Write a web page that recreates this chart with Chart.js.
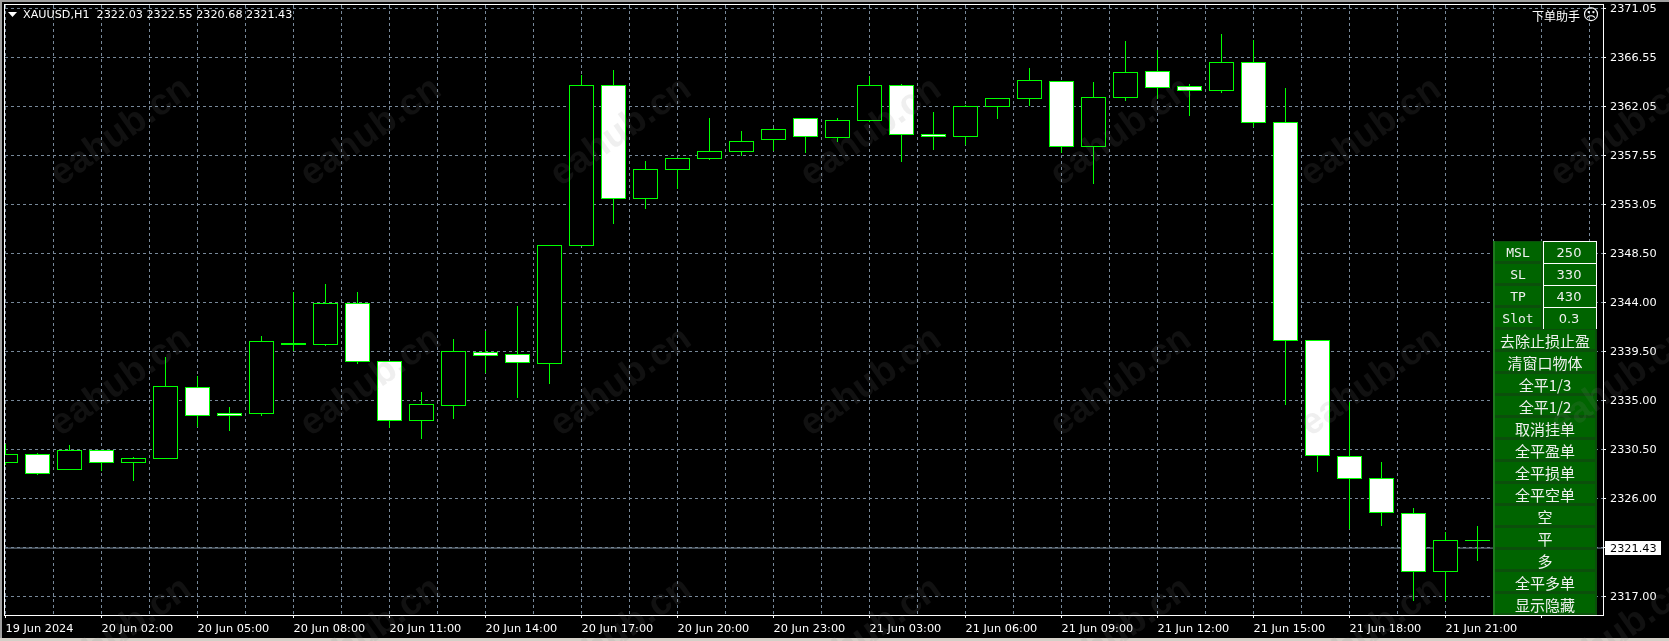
<!DOCTYPE html>
<html>
<head>
<meta charset="utf-8">
<title>XAUUSD,H1</title>
<script src="https://cdn.jsdelivr.net/npm/chart.js@4"></script>
<style>
    html, body { margin: 0; padding: 0; background: #000; overflow: hidden; }
    canvas { display: block; }
</style>
</head>
<body>
<canvas id="priceChart" width="1669" height="641"></canvas>
<script>
// candles, oldest first, one per hour
var opens = [2329.27, 2329.95, 2328.63, 2330.32, 2329.22, 2329.64, 2336.10, 2333.72, 2333.77, 2340.22, 2340.14, 2343.91,
    2338.49, 2333.13, 2334.51, 2339.32, 2339.22, 2338.36, 2349.17, 2363.93, 2353.55, 2356.21, 2357.22, 2357.87,
    2358.97, 2360.90, 2359.15, 2360.71, 2363.93, 2359.43, 2359.24, 2362.00, 2362.73, 2364.29, 2358.33, 2362.82,
    2365.21, 2363.84, 2363.47, 2366.04, 2360.53, 2340.42, 2329.77, 2327.80, 2324.59, 2319.21, 2322.05];
var highs = [2330.90, 2330.07, 2330.80, 2330.32, 2329.70, 2338.88, 2337.20, 2334.29, 2340.81, 2344.88, 2345.59, 2344.85,
    2338.49, 2335.67, 2340.54, 2341.27, 2343.57, 2349.17, 2364.85, 2365.30, 2356.95, 2357.22, 2360.90, 2359.70,
    2359.98, 2360.90, 2360.90, 2364.75, 2364.02, 2361.45, 2362.09, 2362.73, 2365.49, 2364.29, 2364.20, 2367.97,
    2367.14, 2364.02, 2368.55, 2368.02, 2363.65, 2340.42, 2334.73, 2329.22, 2325.02, 2322.84, 2323.37];
var lows = [2329.06, 2328.14, 2328.63, 2328.51, 2327.62, 2329.64, 2332.58, 2332.21, 2333.59, 2339.53, 2340.01, 2338.36,
    2332.48, 2331.45, 2333.28, 2337.54, 2335.21, 2336.53, 2349.17, 2351.24, 2352.60, 2354.43, 2357.09, 2357.50,
    2357.96, 2357.71, 2358.78, 2360.62, 2356.91, 2358.01, 2358.51, 2360.86, 2362.05, 2357.74, 2354.93, 2362.51,
    2362.73, 2361.17, 2363.28, 2360.16, 2334.60, 2328.44, 2323.15, 2323.49, 2316.60, 2316.60, 2320.27];
var closes = [2329.95, 2328.26, 2330.32, 2329.22, 2329.58, 2336.19, 2333.59, 2333.59, 2340.33, 2340.13, 2343.91, 2338.49,
    2333.13, 2334.54, 2339.41, 2339.10, 2338.45, 2349.17, 2363.93, 2353.55, 2356.21, 2357.22, 2357.87, 2358.78,
    2359.89, 2359.24, 2360.71, 2363.93, 2359.43, 2359.21, 2362.00, 2362.73, 2364.39, 2358.33, 2362.82, 2365.12,
    2363.74, 2363.47, 2366.04, 2360.53, 2340.42, 2329.86, 2327.75, 2324.62, 2319.21, 2322.05, 2322.05];

var timeLabels = ['19 Jun 2024', '20 Jun 02:00', '20 Jun 05:00', '20 Jun 08:00', '20 Jun 11:00', '20 Jun 14:00',
    '20 Jun 17:00', '20 Jun 20:00', '20 Jun 23:00', '21 Jun 03:00', '21 Jun 06:00', '21 Jun 09:00',
    '21 Jun 12:00', '21 Jun 15:00', '21 Jun 18:00', '21 Jun 21:00'];

var priceTicks = [2371.05, 2366.55, 2362.05, 2357.55, 2353.05, 2348.50, 2344.00, 2339.50, 2335.00, 2330.50, 2326.00, 2321.50, 2317.00];
var priceTickLabels = ['2371.05', '2366.55', '2362.05', '2357.55', '2353.05', '2348.50', '2344.00', '2339.50', '2335.00', '2330.50', '2326.00', '', '2317.00'];
var lastPrice = 2321.43;
var headerText = 'XAUUSD,H1  2322.03 2322.55 2320.68 2321.43';

var panelInputs = ['MSL', 'SL', 'TP', 'Slot'];
var panelValues = ['250', '330', '430', '0.3'];
var panelButtons = ['去除止损止盈', '清窗口物体', '全平1/3', '全平1/2', '取消挂单', '全平盈单', '全平损单', '全平空单', '空', '平', '多', '全平多单', '显示隐藏'];

var GREEN = '#00ff00';
var GRID = '#778899';
var LABEL_FONT = { family: '"DejaVu Sans"', size: 11.3 };

var wickData = [];
var bodyData = [];
var bodyColors = [];
for (var i = 0; i < opens.length; i++) {
    wickData.push({ x: i, y: [lows[i], highs[i]] });
    bodyData.push({ x: i, y: [opens[i], closes[i]] });
    bodyColors.push(closes[i] < opens[i] ? '#ffffff' : '#000000');
}

var gridTicks = [];
for (var t = 0; t < 34; t++) {
    gridTicks.push(t * 1.5);
}

// bars land on fractional pixels, snap them to whole rows so the outlines stay sharp
var snapBars = {
    id: 'snapBars',
    afterDatasetsUpdate: function (chart) {
        chart.data.datasets.forEach(function (ds, n) {
            if (ds.type === 'line') return;
            chart.getDatasetMeta(n).data.forEach(function (el) {
                var top = Math.min(el.y, el.base);
                var bottom = Math.max(el.y, el.base);
                el.y = Math.floor(top - 0.5);
                el.base = Math.floor(bottom - 0.5) + 1;
            });
        });
    }
};

var chartFrame = {
    id: 'chartFrame',
    beforeDraw: function (chart) {
        var ctx = chart.ctx;
        ctx.save();
        ctx.fillStyle = '#000';
        ctx.fillRect(0, 0, chart.width, chart.height);
        ctx.restore();
    },
    afterDraw: function (chart) {
        var ctx = chart.ctx;
        var area = chart.chartArea;
        ctx.save();
        ctx.strokeStyle = '#fff';
        ctx.lineWidth = 1;
        ctx.strokeRect(area.left - 0.5, area.top - 0.5, area.right - area.left + 1, area.bottom - area.top + 1);

        // window edge
        ctx.fillStyle = '#a0a0a0';
        ctx.fillRect(0, 0, chart.width, 2);
        ctx.fillRect(0, 0, 2, chart.height);
        ctx.fillStyle = '#d4d0c8';
        ctx.fillRect(0, 638, chart.width, 3);

        // header
        ctx.fillStyle = '#fff';
        ctx.beginPath();
        ctx.moveTo(8, 12);
        ctx.lineTo(17, 12);
        ctx.lineTo(12.5, 17);
        ctx.closePath();
        ctx.fill();
        ctx.font = '11.2px "DejaVu Sans"';
        ctx.textBaseline = 'middle';
        ctx.textAlign = 'left';
        ctx.fillText(headerText, 23, 15);

        // last price tag
        var y = chart.scales.y.getPixelForValue(lastPrice);
        ctx.fillStyle = '#fff';
        ctx.fillRect(1605, Math.floor(y) - 7, 56, 14);
        ctx.fillStyle = '#000';
        ctx.font = '11.3px "DejaVu Sans"';
        ctx.fillText(lastPrice.toFixed(2), 1610, Math.floor(y) + 1);
        ctx.restore();
    }
};

var orderPanel = {
    id: 'orderPanel',
    afterDatasetsDraw: function (chart) {
        var ctx = chart.ctx;
        var left = 1493, top = 241, rowH = 22, width = 104;
        ctx.save();
        ctx.textAlign = 'center';
        ctx.textBaseline = 'middle';
        ctx.fillStyle = '#1e7a1e';
        ctx.fillRect(left, top, width, rowH * 17);

        // title at the top right
        ctx.fillStyle = '#fff';
        ctx.font = '12px "Noto Sans CJK SC"';
        ctx.fillText('下单助手', 1556, 16);
        ctx.font = '16px "DejaVu Sans"';
        ctx.fillText('☹', 1591, 16);

        var row = 0;
        panelInputs.forEach(function (name, n) {
            var y = top + rowH * row;
            ctx.fillStyle = '#0b4f0b';
            ctx.fillRect(left + 2, y, width - 2, rowH);
            ctx.fillStyle = '#006400';
            ctx.fillRect(left + 2, y + 1, 46, rowH - 3);
            ctx.fillRect(left + 50, y, width - 50, rowH);
            ctx.strokeStyle = '#fff';
            ctx.lineWidth = 1;
            ctx.strokeRect(left + 50.5, y + 0.5, width - 51, rowH);
            ctx.fillStyle = '#f0f0f0';
            ctx.font = '13px "DejaVu Sans Mono"';
            ctx.fillText(name, left + 25, y + 13);
            ctx.font = '13px "DejaVu Sans"';
            ctx.fillText(panelValues[n], left + 76, y + 13);
            row++;
        });
        panelButtons.forEach(function (name) {
            var y = top + rowH * row;
            ctx.fillStyle = '#0b4f0b';
            ctx.fillRect(left + 2, y, width - 2, rowH);
            ctx.fillStyle = '#006400';
            ctx.fillRect(left + 2, y + 1, width - 4, rowH - 3);
            ctx.fillStyle = '#f0f0f0';
            ctx.font = '15px "Noto Sans CJK SC"';
            ctx.fillText(name, left + 52, y + 12);
            row++;
        });
        ctx.restore();
    }
};

// site watermark over everything
var watermark = {
    id: 'watermark',
    afterDraw: function (chart) {
        var ctx = chart.ctx;
        ctx.save();
        ctx.font = 'bold 37px "Liberation Sans"';
        ctx.textAlign = 'center';
        ctx.textBaseline = 'middle';
        ctx.fillStyle = 'rgba(128, 128, 128, 0.13)';
        for (var cx = 121; cx < 1700; cx += 250) {
            for (var cy = 132; cy < 700; cy += 250) {
                ctx.save();
                ctx.translate(cx, cy);
                ctx.rotate(-35 * Math.PI / 180);
                ctx.fillText('eahub.cn', 0, 0);
                ctx.restore();
            }
        }
        ctx.restore();
    }
};

var ctx = document.getElementById('priceChart').getContext('2d');
var chart = new Chart(ctx, {
    type: 'bar',
    data: {
        datasets: [
            {
                type: 'line',
                data: [{ x: -1, y: lastPrice }, { x: 51, y: lastPrice }],
                borderColor: GRID,
                borderWidth: 1,
                pointRadius: 0,
                order: 3
            },
            {
                data: wickData,
                backgroundColor: GREEN,
                barThickness: 1,
                grouped: false,
                inflateAmount: 0,
                order: 2
            },
            {
                data: bodyData,
                backgroundColor: bodyColors,
                borderColor: GREEN,
                borderWidth: 1,
                borderSkipped: false,
                barThickness: 25,
                grouped: false,
                inflateAmount: 0,
                order: 1
            }
        ]
    },
    options: {
        responsive: false,
        animation: false,
        devicePixelRatio: 1,
        layout: { padding: { left: 5, top: 5, right: 0, bottom: 0 } },
        plugins: {
            legend: { display: false },
            tooltip: { enabled: false }
        },
        scales: {
            x: {
                type: 'linear',
                offset: false,
                min: -0.015625,
                max: 49.921875,
                afterBuildTicks: function (scale) {
                    scale.ticks = gridTicks.map(function (v) { return { value: v }; });
                },
                afterFit: function (scale) {
                    scale.height = 26;
                    scale.paddingLeft = 0;
                    scale.paddingRight = 0;
                },
                grid: {
                    offset: false,
                    color: GRID,
                    lineWidth: 1,
                    tickLength: 3,
                    tickBorderDash: [],
                    tickColor: function (c) { return c.index % 2 === 0 ? '#fff' : 'rgba(0,0,0,0)'; }
                },
                border: { display: false, dash: [3, 3] },
                ticks: {
                    autoSkip: false,
                    maxRotation: 0,
                    minRotation: 0,
                    align: 'start',
                    padding: 4,
                    color: '#fff',
                    font: LABEL_FONT,
                    callback: function (value, index) {
                        return index % 2 === 0 ? (timeLabels[index / 2] || '') : '';
                    }
                }
            },
            y: {
                position: 'right',
                min: 2315.28,
                max: 2371.346,
                afterBuildTicks: function (scale) {
                    scale.ticks = priceTicks.map(function (v) { return { value: v }; });
                },
                afterFit: function (scale) {
                    scale.width = 66;
                    scale.paddingTop = 0;
                    scale.paddingBottom = 0;
                },
                grid: {
                    color: GRID,
                    lineWidth: 1,
                    tickLength: 3,
                    tickBorderDash: [],
                    tickColor: '#fff'
                },
                border: { display: false, dash: [3, 3] },
                ticks: {
                    autoSkip: false,
                    padding: 4,
                    labelOffset: 1,
                    color: '#fff',
                    font: LABEL_FONT,
                    callback: function (value, index) {
                        return priceTickLabels[index];
                    }
                }
            }
        }
    },
    plugins: [snapBars, chartFrame, orderPanel, watermark]
});
</script>
</body>
</html>
